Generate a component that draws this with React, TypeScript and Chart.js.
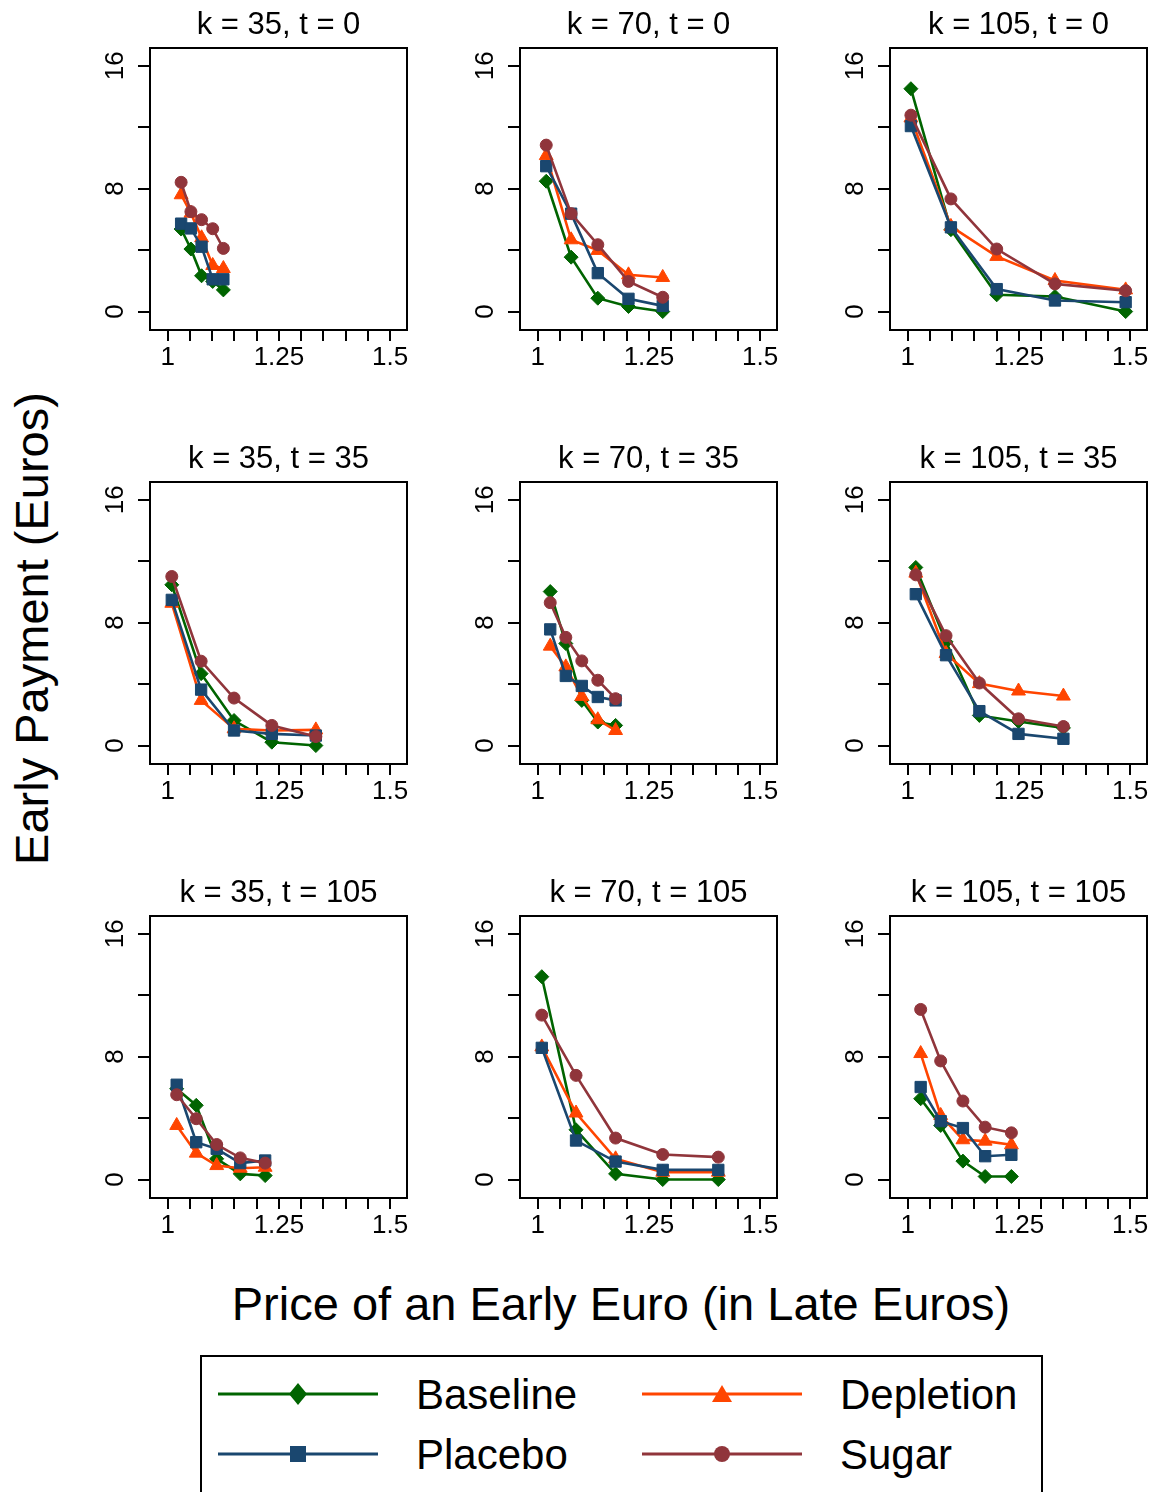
import React, { useEffect, useRef } from 'react';
import { Chart, registerables } from 'chart.js';

Chart.register(...registerables);

const FONT = '"Liberation Sans", Arial, Helvetica, sans-serif';

// ---- data ----
const panelTitles = [
  'k = 35, t = 0', 'k = 70, t = 0', 'k = 105, t = 0',
  'k = 35, t = 35', 'k = 70, t = 35', 'k = 105, t = 35',
  'k = 35, t = 105', 'k = 70, t = 105', 'k = 105, t = 105',
];

const prices = [
  [1.030, 1.052, 1.076, 1.101, 1.125],
  [1.019, 1.075, 1.135, 1.204, 1.281],
  [1.007, 1.097, 1.200, 1.331, 1.490],
  [1.009, 1.075, 1.149, 1.234, 1.333],
  [1.028, 1.063, 1.099, 1.135, 1.175],
  [1.018, 1.086, 1.161, 1.249, 1.350],
  [1.020, 1.064, 1.110, 1.163, 1.219],
  [1.009, 1.086, 1.175, 1.281, 1.406],
  [1.029, 1.074, 1.124, 1.174, 1.233],
];

const baseline = [
  [5.37, 4.07, 2.33, 1.96, 1.41],
  [8.48, 3.54, 0.87, 0.33, 0.0],
  [14.5, 5.33, 1.09, 0.98, 0.0],
  [10.46, 4.68, 1.63, 0.22, 0.0],
  [10.02, 6.64, 2.94, 1.53, 1.31],
  [11.59, 6.75, 1.96, 1.57, 1.15],
  [5.91, 4.83, 1.35, 0.37, 0.26],
  [13.2, 3.24, 0.37, 0.0, 0.0],
  [5.26, 3.52, 1.2, 0.2, 0.2],
];

const depletion = [
  [7.6, 6.4, 4.8, 3.0, 2.8],
  [10.15, 4.67, 3.98, 2.39, 2.22],
  [12.6, 5.54, 3.59, 2.02, 1.41],
  [9.26, 2.94, 1.09, 0.98, 1.02],
  [6.47, 5.12, 3.2, 1.68, 0.98],
  [11.22, 5.99, 4.03, 3.55, 3.22],
  [3.52, 1.72, 0.91, 0.74, 0.8],
  [8.63, 4.33, 1.35, 0.48, 0.48],
  [8.2, 4.17, 2.59, 2.5, 2.26],
];

const placebo = [
  [5.72, 5.41, 4.22, 2.1, 2.1],
  [9.46, 6.37, 2.5, 0.83, 0.37],
  [12.07, 5.48, 1.46, 0.72, 0.61],
  [9.48, 3.64, 0.98, 0.76, 0.65],
  [7.56, 4.53, 3.88, 3.16, 2.94],
  [9.85, 5.88, 2.24, 0.76, 0.44],
  [6.17, 2.43, 2.0, 1.07, 1.24],
  [8.57, 2.54, 1.17, 0.63, 0.63],
  [6.02, 3.8, 3.35, 1.52, 1.61],
];

const sugar = [
  [8.41, 6.5, 5.98, 5.39, 4.11],
  [10.83, 6.37, 4.35, 1.96, 0.93],
  [12.78, 7.33, 4.07, 1.8, 1.35],
  [11.0, 5.49, 3.09, 1.31, 0.59],
  [9.3, 7.04, 5.51, 4.25, 3.05],
  [11.11, 7.15, 4.07, 1.74, 1.24],
  [5.52, 3.96, 2.28, 1.41, 1.07],
  [10.7, 6.78, 2.7, 1.63, 1.46],
  [11.07, 7.72, 5.11, 3.41, 3.04],
];

const xTicks = [1, 1.05, 1.1, 1.15, 1.2, 1.25, 1.3, 1.35, 1.4, 1.45, 1.5];
const xTickLabels = ['1', '', '', '', '', '1.25', '', '', '', '', '1.5'];
const yTicks = [0, 4, 8, 12, 16];
const yTickLabels = ['0', '', '8', '', '16'];

const seriesNames = ['Baseline', 'Depletion', 'Placebo', 'Sugar'];
const seriesColors = ['#006400', '#ff4500', '#1a476f', '#90353b'];
const seriesShapes = ['rectRot', 'triangle', 'rect', 'circle'];
const seriesRadii = [7, 8, 8, 6];

// ---- layout ----
const colLeft = [150, 520, 890];
const rowTop = [48, 482, 916];
const PLOT_W = 257;
const PLOT_H = 282;
const Y_AXIS_W = 60;
const X_AXIS_H = 50;
const TITLE_H = 48;
const RIGHT_PAD = 12;

const boxPlugin = {
  id: 'plotBox',
  afterDraw(chart: any) {
    const { ctx, chartArea: a } = chart;
    ctx.save();
    ctx.strokeStyle = '#000';
    ctx.lineWidth = 2;
    ctx.strokeRect(a.left, a.top, a.right - a.left, a.bottom - a.top);
    ctx.restore();
  },
};

function labelFor(values: number[], labels: string[], v: number) {
  const i = values.findIndex((t) => Math.abs(t - v) < 1e-6);
  return i >= 0 ? labels[i] : '';
}

function Panel({ idx }: { idx: number }) {
  const ref = useRef<HTMLCanvasElement>(null);
  const col = idx % 3;
  const row = Math.floor(idx / 3);
  const width = Y_AXIS_W + PLOT_W + RIGHT_PAD;
  const height = TITLE_H + PLOT_H + X_AXIS_H;

  useEffect(() => {
    const series = [baseline, depletion, placebo, sugar];
    const datasets = [3, 2, 1, 0].map((s) => ({
      label: seriesNames[s],
      data: prices[idx].map((x, i) => ({ x, y: series[s][idx][i] })),
      borderColor: seriesColors[s],
      backgroundColor: seriesColors[s],
      pointBackgroundColor: seriesColors[s],
      pointBorderColor: seriesColors[s],
      pointStyle: seriesShapes[s] as any,
      pointRadius: seriesRadii[s],
      pointBorderWidth: 1,
      borderWidth: 2.6,
      tension: 0,
      fill: false,
    }));
    const tickFont = { family: FONT, size: 26, weight: 'normal' as const };
    const chart = new Chart(ref.current as HTMLCanvasElement, {
      type: 'line',
      data: { datasets },
      options: {
        animation: false,
        responsive: false,
        layout: { padding: { left: 0, right: RIGHT_PAD, top: 0, bottom: 0 } },
        plugins: {
          legend: { display: false },
          tooltip: { enabled: false },
          title: {
            display: true,
            text: panelTitles[idx],
            fullSize: false,
            color: '#000',
            font: { family: FONT, size: 31, weight: 'normal', lineHeight: 1.2 },
            padding: { top: 6.5, bottom: 4.3 },
          },
        },
        scales: {
          x: {
            type: 'linear',
            min: 0.96,
            max: 1.538,
            afterBuildTicks: (s: any) => {
              s.ticks = xTicks.map((v) => ({ value: v }));
            },
            afterFit: (s: any) => {
              s.height = X_AXIS_H;
            },
            ticks: {
              autoSkip: false,
              maxRotation: 0,
              minRotation: 0,
              padding: 1,
              color: '#000',
              font: tickFont,
              callback: (v: any) => labelFor(xTicks, xTickLabels, Number(v)),
            },
            grid: {
              drawOnChartArea: false,
              drawTicks: true,
              tickLength: 11,
              color: '#000',
              lineWidth: 2,
            },
            border: { display: true, color: '#000', width: 2 },
          },
          y: {
            type: 'linear',
            min: -1.2,
            max: 17.15,
            afterBuildTicks: (s: any) => {
              s.ticks = yTicks.map((v) => ({ value: v }));
            },
            afterFit: (s: any) => {
              s.width = Y_AXIS_W;
            },
            ticks: {
              autoSkip: false,
              minRotation: 90,
              maxRotation: 90,
              crossAlign: 'center',
              padding: 8,
              color: '#000',
              font: tickFont,
              callback: (v: any) => labelFor(yTicks, yTickLabels, Number(v)),
            },
            grid: {
              drawOnChartArea: false,
              drawTicks: true,
              tickLength: 12,
              color: '#000',
              lineWidth: 2,
            },
            border: { display: true, color: '#000', width: 2 },
          },
        },
      } as any,
      plugins: [boxPlugin],
    });
    return () => chart.destroy();
  }, [idx]);

  return (
    <canvas
      ref={ref}
      width={width}
      height={height}
      style={{
        position: 'absolute',
        left: colLeft[col] - Y_AXIS_W,
        top: rowTop[row] - TITLE_H,
        width,
        height,
      }}
    />
  );
}

function Overlay() {
  const legendRows = [1394, 1454];
  const legendLineX = [[218, 378], [642, 802]];
  const legendTextX = [416, 840];
  const items = [0, 1, 2, 3].map((s) => {
    const r = Math.floor(s / 2);
    const c = s % 2;
    const y = legendRows[r];
    const [x1, x2] = legendLineX[c];
    const cx = (x1 + x2) / 2;
    const color = seriesColors[s];
    let marker: React.ReactNode = null;
    if (seriesShapes[s] === 'rectRot') {
      marker = <polygon points={`${cx},${y - 11} ${cx + 9},${y} ${cx},${y + 11} ${cx - 9},${y}`} fill={color} />;
    } else if (seriesShapes[s] === 'triangle') {
      marker = <polygon points={`${cx},${y - 9} ${cx + 10},${y + 8} ${cx - 10},${y + 8}`} fill={color} />;
    } else if (seriesShapes[s] === 'rect') {
      marker = <rect x={cx - 8} y={y - 8} width={16} height={16} fill={color} />;
    } else {
      marker = <circle cx={cx} cy={y} r={8} fill={color} />;
    }
    return (
      <g key={s}>
        <line x1={x1} y1={y} x2={x2} y2={y} stroke={color} strokeWidth={3} />
        {marker}
        <text x={legendTextX[c]} y={y + 15} fontSize={42} fill="#000" fontFamily={FONT}>
          {seriesNames[s]}
        </text>
      </g>
    );
  });
  return (
    <svg
      width={1157}
      height={1492}
      style={{ position: 'absolute', left: 0, top: 0 }}
    >
      <text
        x={621}
        y={1320}
        fontSize={47}
        textAnchor="middle"
        fill="#000"
        fontFamily={FONT}
      >
        Price of an Early Euro (in Late Euros)
      </text>
      <text
        transform="translate(48,628.5) rotate(-90)"
        fontSize={47}
        textAnchor="middle"
        fill="#000"
        fontFamily={FONT}
      >
        Early Payment (Euros)
      </text>
      <rect x={201} y={1356} width={841} height={200} fill="#fff" stroke="#000" strokeWidth={2} />
      {items}
    </svg>
  );
}

export default function App() {
  return (
    <div
      style={{
        position: 'absolute',
        left: 0,
        top: 0,
        width: 1157,
        height: 1492,
        overflow: 'hidden',
        background: '#fff',
      }}
    >
      <Overlay />
      {panelTitles.map((_, i) => (
        <Panel key={i} idx={i} />
      ))}
    </div>
  );
}
